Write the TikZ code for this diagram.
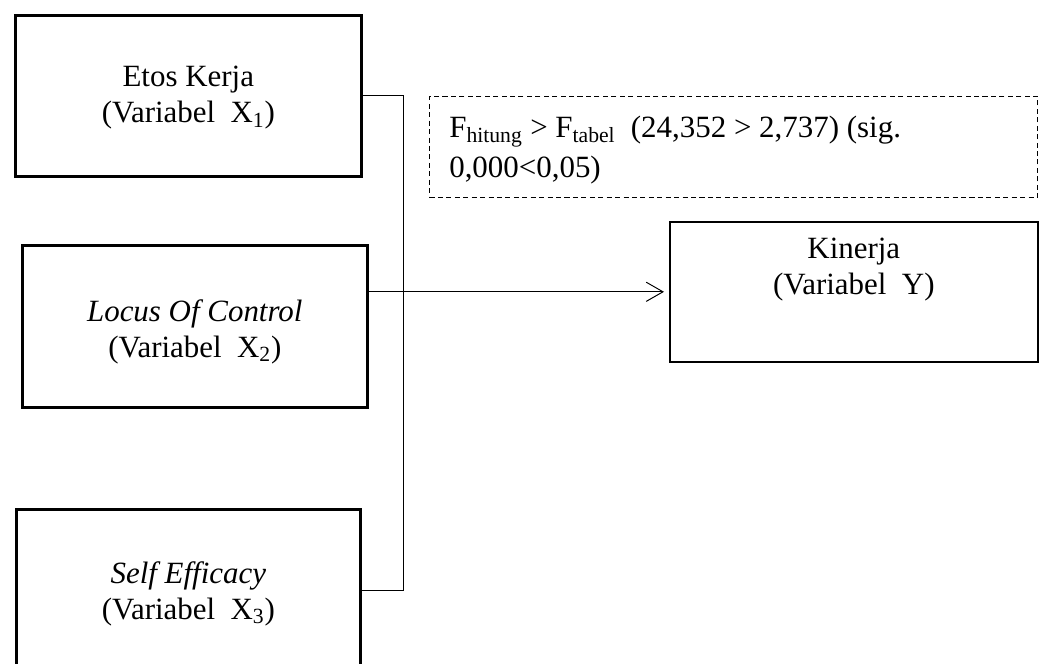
\documentclass[tikz,border=0pt]{standalone}
\usepackage{fontspec}
\setmainfont{Liberation Serif}
\usetikzlibrary{arrows.meta, positioning, calc}
\tikzset{
    var/.style={draw, line width=1.8pt, inner sep=0pt, minimum width=8.65cm, minimum height=4.05cm, anchor=north west},
    vartext/.style={align=center, inner sep=0pt, font=\fontsize{22}{25.6}\selectfont},
    link/.style={line width=0.7pt},
}

\begin{document}
\begin{tikzpicture}[x=0.025cm, y=-0.025cm]
    \tikzset{
      node distance=1cm,
      result/.style={draw, line width=1.1pt, inner sep=0pt, minimum width=9.2cm, minimum height=3.5cm, anchor=north west},
      note/.style={draw, line width=0.7pt, dash pattern=on 3.6pt off 2.4pt, inner sep=0pt, minimum width=15.2cm, minimum height=2.525cm, anchor=north west}
    }
    \useasboundingbox (0,0) rectangle (1043,663);

    \node[var, minimum height=4.025cm] (x1) at (14,14) {};
    \node[vartext, below=1.3cm of x1.north] (x1t) {Etos Kerja\\(Variabel~~X\textsubscript{1})};

    \node[var, minimum width=8.625cm] (x2) at (21,244) {};
    \node[vartext, below=1.375cm of x2.north] (x2t) {\textit{Locus Of Control}\\(Variabel~~X\textsubscript{2})};

    \node[var, minimum width=8.6cm] (x3) at (15,508) {};
    \node[vartext, below=1.325cm of x3.north] (x3t) {\textit{Self Efficacy}\\(Variabel~~X\textsubscript{3})};

    \node[note] (f) at (429,96) {};
    \node[vartext, align=left, font=\fontsize{22}{28.45}\selectfont, below right=0.5cm and 0.5cm of f.north west] (ft) {F\textsubscript{hitung} > F\textsubscript{tabel}\ \ (24,352 > 2,737) (sig.\\0,000<0,05)};

    \node[result] (y) at (669,221) {};
    \node[vartext, below=0.425cm of y.north] (yt) {Kinerja\\(Variabel~~Y)};

    \coordinate (bus) at (403,0);
    \draw[link] (x1.east) -- (x1.east -| bus) |- (x3.east);
    \draw[link, -{Straight Barb[length=4.2mm, width=4.8mm]}, shorten >=0.125cm] (x2.east |- y.west) -- (y.west);
\end{tikzpicture}
\end{document}
